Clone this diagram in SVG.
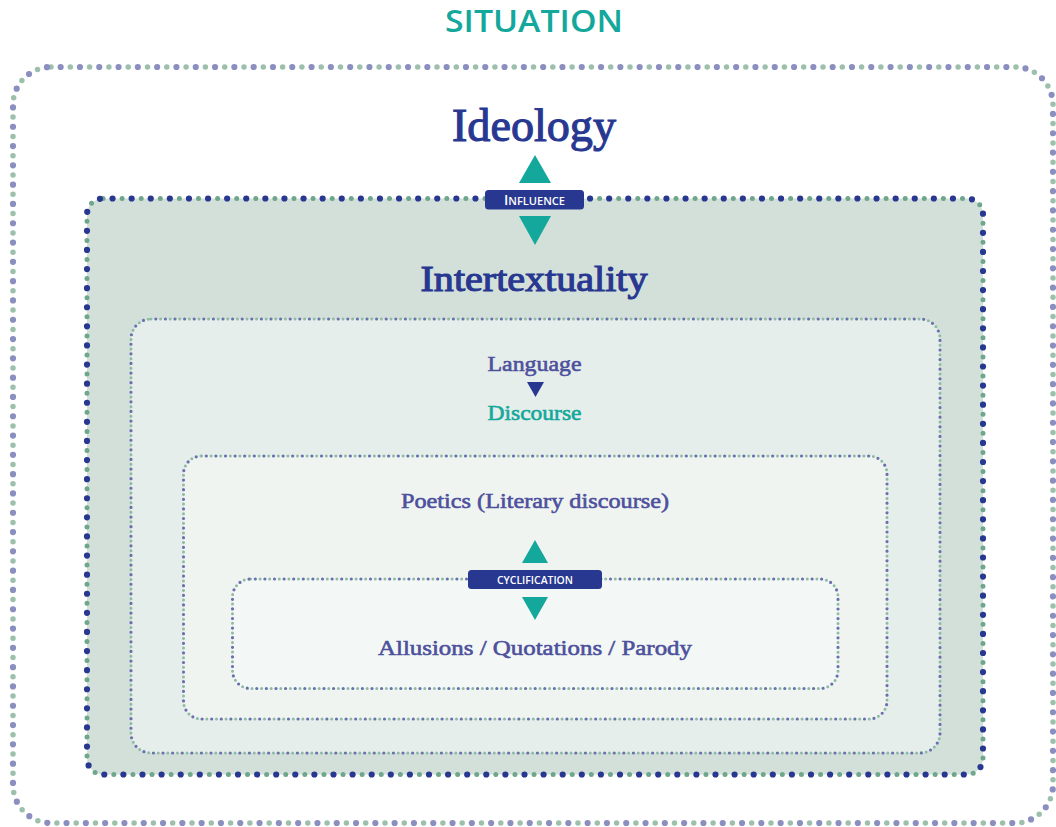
<svg xmlns="http://www.w3.org/2000/svg" width="1056" height="827" viewBox="0 0 1056 827">
<style>
.serif{font-family:"Liberation Serif","DejaVu Serif",serif;text-anchor:middle}
.sans{font-family:"Open Sans","Noto Sans","Liberation Sans",sans-serif;text-anchor:middle}
.navy{fill:#283891}
.purple{fill:#4d509c}
.teal{fill:#13a89b}
.big{stroke-width:1.1;paint-order:stroke}
.med{stroke-width:0.6;paint-order:stroke}
.dotA{fill:none;stroke-linecap:round}
.lbl{fill:#283891}
.lbltxt{fill:#ffffff;font-weight:600}
</style>
<rect width="1056" height="827" fill="#ffffff"/>
<g id="situation">
<text class="sans teal" x="534" y="32" font-size="30" font-weight="600" textLength="178" lengthAdjust="spacingAndGlyphs">SITUATION</text>
<rect x="13" y="67" width="1040" height="756" rx="38" class="dotA" stroke="#9dc0ad" stroke-width="5.5" stroke-dasharray="0 19.3"/>
<rect x="13" y="67" width="1040" height="756" rx="38" class="dotA" stroke="#8a8fc0" stroke-width="6.2" stroke-dasharray="0 19.3" stroke-dashoffset="9.65"/>
</g>
<g id="ideology">
<text class="serif navy big" stroke="#283891" x="534" y="141" font-size="46" textLength="164" lengthAdjust="spacingAndGlyphs">Ideology</text>
</g>
<g id="intertextuality">
<rect x="87" y="198.5" width="896" height="576" rx="16" fill="#d3e0da"/>
<rect x="87" y="198.5" width="896" height="576" rx="16" class="dotA" stroke="#6ea78b" stroke-width="5" stroke-dasharray="0 19.1"/>
<rect x="87" y="198.5" width="896" height="576" rx="16" class="dotA" stroke="#283891" stroke-width="6.2" stroke-dasharray="0 19.1" stroke-dashoffset="9.55"/>
<text class="serif navy big" stroke="#283891" x="534" y="291" font-size="36" textLength="227" lengthAdjust="spacingAndGlyphs">Intertextuality</text>
</g>
<g id="language">
<rect x="131" y="319" width="809" height="434" rx="20" fill="#e6eeeb"/>
<rect x="131" y="319" width="809" height="434" rx="20" class="dotA" stroke="#8dbba3" stroke-width="3" stroke-dasharray="0 9.6"/>
<rect x="131" y="319" width="809" height="434" rx="20" class="dotA" stroke="#6a70ae" stroke-width="3.2" stroke-dasharray="0 9.6" stroke-dashoffset="4.8"/>
<text class="serif purple med" stroke="#4d509c" x="534.5" y="371" font-size="22" textLength="94" lengthAdjust="spacingAndGlyphs">Language</text>
<text class="serif teal med" stroke="#13a89b" x="534.5" y="420" font-size="22" textLength="94" lengthAdjust="spacingAndGlyphs">Discourse</text>
</g>
<g id="poetics">
<rect x="183.5" y="456" width="703.5" height="263" rx="18" fill="#eff4f1"/>
<rect x="183.5" y="456" width="703.5" height="263" rx="18" class="dotA" stroke="#8dbba3" stroke-width="3" stroke-dasharray="0 9.6"/>
<rect x="183.5" y="456" width="703.5" height="263" rx="18" class="dotA" stroke="#6a70ae" stroke-width="3.2" stroke-dasharray="0 9.6" stroke-dashoffset="4.8"/>
<text class="serif purple med" stroke="#4d509c" x="535" y="508" font-size="22" textLength="268" lengthAdjust="spacingAndGlyphs">Poetics (Literary discourse)</text>
</g>
<g id="allusions">
<rect x="232.5" y="579" width="605.5" height="109.5" rx="18" fill="#f3f8f6"/>
<rect x="232.5" y="579" width="605.5" height="109.5" rx="18" class="dotA" stroke="#8dbba3" stroke-width="3" stroke-dasharray="0 9.6"/>
<rect x="232.5" y="579" width="605.5" height="109.5" rx="18" class="dotA" stroke="#6a70ae" stroke-width="3.2" stroke-dasharray="0 9.6" stroke-dashoffset="4.8"/>
<text class="serif purple med" stroke="#4d509c" x="535" y="655" font-size="22" textLength="314" lengthAdjust="spacingAndGlyphs">Allusions / Quotations / Parody</text>
</g>
<g id="connectors">
<polygon points="535,155 551,183 519,183" class="teal"/>
<polygon points="519,216 551,216 535,245" class="teal"/>
<polygon points="527,382 544,382 535.5,397" class="navy"/>
<polygon points="535,540 548,563 522,563" class="teal"/>
<polygon points="522,597 548,597 535,620" class="teal"/>
<g id="influence-label">
<rect x="485" y="190" width="99" height="19.5" rx="3.5" class="lbl"/>
<text class="sans lbltxt" x="534.5" y="204.5" font-size="10.5" textLength="61" lengthAdjust="spacingAndGlyphs"><tspan font-size="13.5">I</tspan>NFLUENCE</text>
</g>
<g id="cyclification-label">
<rect x="468" y="570" width="134" height="19" rx="3.5" class="lbl"/>
<text class="sans lbltxt" x="535" y="583.5" font-size="10.5" textLength="76" lengthAdjust="spacingAndGlyphs">CYCLIFICATION</text>
</g>
</g>
</svg>
